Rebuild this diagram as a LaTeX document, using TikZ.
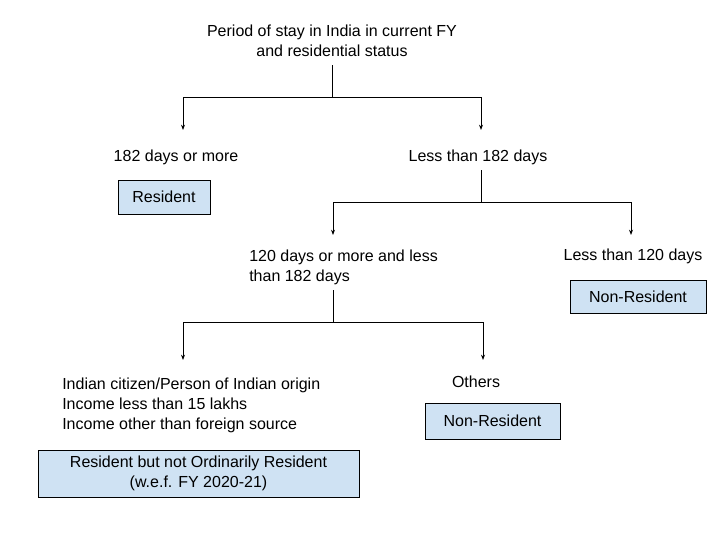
\documentclass[tikz,border=0pt]{standalone}
\usepackage{fontspec}
\setmainfont{Liberation Sans}
\usetikzlibrary{arrows.meta}
\definecolor{boxblue}{HTML}{CFE2F3}
\newcommand{\tipsize}{4pt}

\begin{document}
\begin{tikzpicture}[x=0.75pt,y=-0.75pt,font=\fontsize{12}{15}\selectfont,
    lbl/.style={inner sep=0pt},
    status/.style={draw, fill=boxblue, inner sep=0pt, align=center},
    link/.style={semithick, -{Stealth[length=\tipsize,width=3pt]}}]
        \useasboundingbox (0,0) rectangle (720,540);
        \node (top) at (332,41) [lbl, align=center] {Period of stay in India in current FY\\and residential status};
        \node (more) at (176,157) [lbl] {182 days or more};
        \node (less) at (478,157) [lbl] {Less than 182 days};
        \node (res) at (164,197) [status, minimum width=69pt, minimum height=25.5pt] {Resident};
        \node (mid) at (249,267) [lbl, anchor=west, align=left] {120 days or more and less\\than 182 days};
        \node (low) at (633,256) [lbl] {Less than 120 days};
        \node (nr1) at (638,296.5) [status, minimum width=102pt, minimum height=25pt] {Non-Resident};
        \node (cit) at (62,405) [lbl, anchor=west, align=left]
             {Indian citizen/Person of Indian origin\\Income less than 15 lakhs\\Income other than foreign source};
        \node (oth) at (476,382) [lbl] {Others};
        \node (nr2) at (492.5,421) [status, minimum width=101pt, minimum height=27pt] {Non-Resident};
        \node (rnor) at (198.5,473.5) [status, minimum width=241pt, minimum height=35pt]
             {Resident but not Ordinarily Resident\\(w.e.f. FY 2020-21)};

        \foreach \ya/\yb/\xa/\xb/\xc/\yc in {65/97/332/183/481/130, 170/202/481/333/631/235, 290/322/333/183/483/360}
                 {
                   \draw[semithick] (\xa,\ya) -- (\xa,\yb) (\xb,\yb) -- (\xc,\yb);
                   \draw[link] (\xb,\yb) -- (\xb,\yc);
                   \draw[link] (\xc,\yb) -- (\xc,\yc);
                 }
      \end{tikzpicture}
\end{document}
